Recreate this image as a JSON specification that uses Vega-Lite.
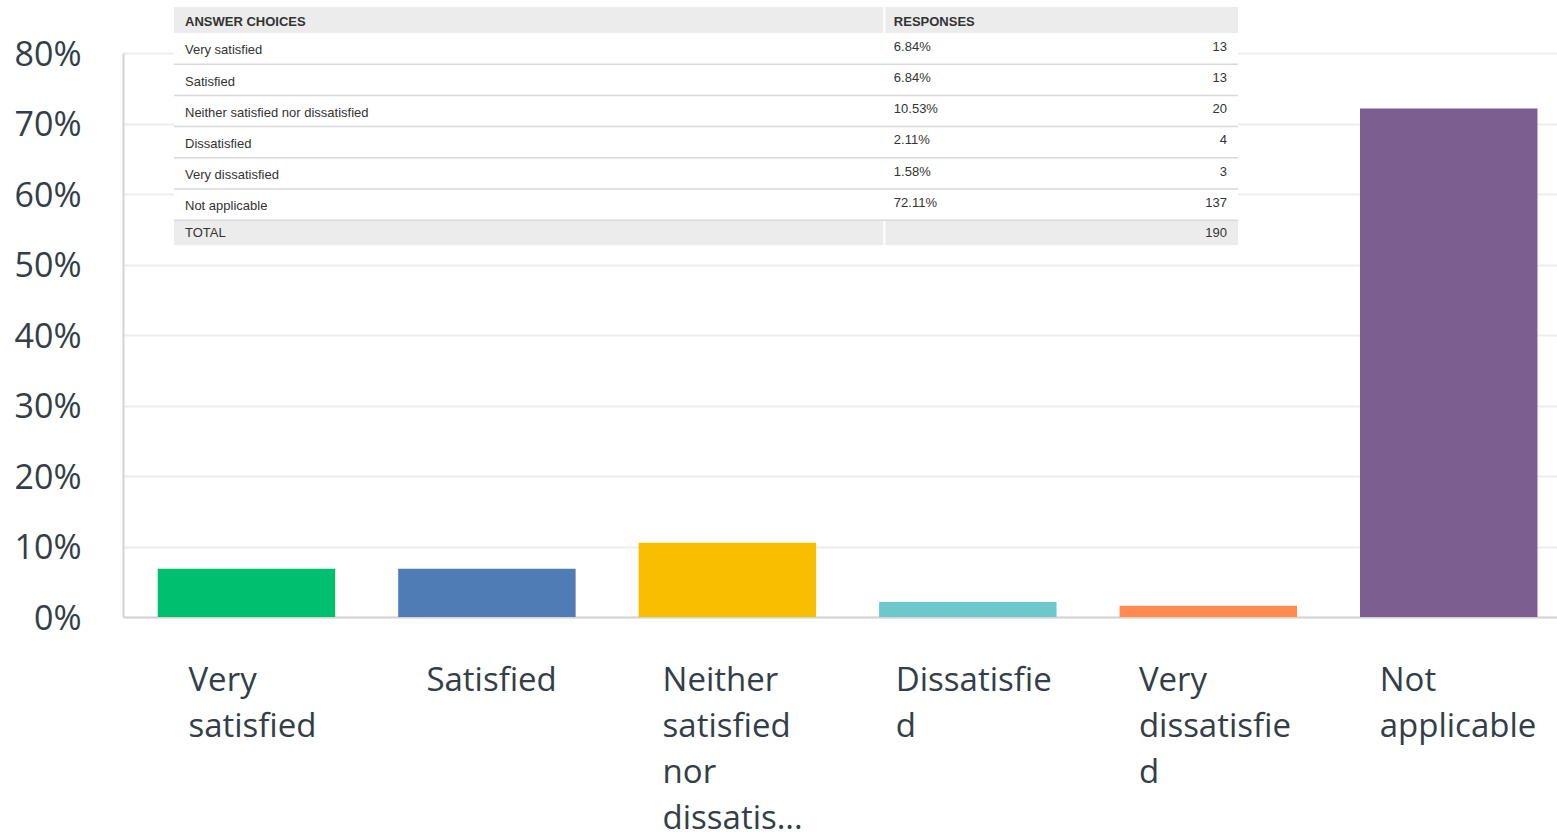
{
  "$schema": "https://vega.github.io/schema/vega-lite/v6.json",
  "width": 1434,
  "height": 564,
  "autosize": {"type": "none"},
  "padding": {"left": 123, "top": 53, "right": 0, "bottom": 218},
  "background": "#ffffff",
  "config": {"view": {"stroke": null}},
  "datasets": {
    "bars": [
      {"choice": "Very satisfied", "pct": 0.0684},
      {"choice": "Satisfied", "pct": 0.0684},
      {"choice": "Neither satisfied nor dissatisfied", "pct": 0.1053},
      {"choice": "Dissatisfied", "pct": 0.0211},
      {"choice": "Very dissatisfied", "pct": 0.0158},
      {"choice": "Not applicable", "pct": 0.7211}
    ],
    "table": [
      {"row": "h", "kind": "header", "label": "ANSWER CHOICES", "resp": "RESPONSES", "count": ""},
      {"row": "r1", "kind": "body", "label": "Very satisfied", "resp": "6.84%", "count": "13"},
      {"row": "r2", "kind": "body", "label": "Satisfied", "resp": "6.84%", "count": "13"},
      {"row": "r3", "kind": "body", "label": "Neither satisfied nor dissatisfied", "resp": "10.53%", "count": "20"},
      {"row": "r4", "kind": "body", "label": "Dissatisfied", "resp": "2.11%", "count": "4"},
      {"row": "r5", "kind": "body", "label": "Very dissatisfied", "resp": "1.58%", "count": "3"},
      {"row": "r6", "kind": "body", "label": "Not applicable", "resp": "72.11%", "count": "137"},
      {"row": "t", "kind": "total", "label": "TOTAL", "resp": "", "count": "190"}
    ]
  },
  "resolve": {"scale": {"x": "independent", "y": "independent"}},
  "layer": [
    {
      "data": {"name": "bars"},
      "mark": {"type": "bar"},
      "encoding": {
        "x": {
          "field": "choice", "type": "nominal", "sort": null,
          "scale": {"paddingInner": 0.262, "paddingOuter": 0.1128, "align": 0.64},
          "axis": {
            "title": null, "ticks": false, "grid": false,
            "domainColor": "#d3d3d3", "domainWidth": 2,
            "labelAngle": 0, "labelAlign": "left", "labelBaseline": "top",
            "labelFont": "Open Sans", "labelFontSize": 33, "labelColor": "#333e48",
            "labelPadding": 47, "labelLineHeight": 46.3, "labelLimit": 0, "labelOverlap": false,
            "labelOffset": {
              "condition": [
                {"test": "datum.value == 'Very satisfied'", "value": -58},
                {"test": "datum.value == 'Satisfied'", "value": -60.5},
                {"test": "datum.value == 'Neither satisfied nor dissatisfied'", "value": -64.8},
                {"test": "datum.value == 'Dissatisfied'", "value": -72},
                {"test": "datum.value == 'Very dissatisfied'", "value": -69.4}
              ],
              "value": -69
            },
            "labelExpr": "datum.value == 'Very satisfied' ? ['Very','satisfied'] : datum.value == 'Neither satisfied nor dissatisfied' ? ['Neither','satisfied','nor','dissatis...'] : datum.value == 'Dissatisfied' ? ['Dissatisfie','d'] : datum.value == 'Very dissatisfied' ? ['Very','dissatisfie','d'] : datum.value == 'Not applicable' ? ['Not','applicable'] : datum.label"
          }
        },
        "y": {
          "field": "pct", "type": "quantitative",
          "scale": {"domain": [0, 0.8], "nice": false},
          "axis": {
            "title": null, "values": [0, 0.1, 0.2, 0.3, 0.4, 0.5, 0.6, 0.7, 0.8],
            "format": ".0%", "ticks": false,
            "grid": true, "gridColor": "#ededed", "gridWidth": 2,
            "domainColor": "#d3d3d3", "domainWidth": 2,
            "labelFont": "Open Sans", "labelFontSize": 34, "labelColor": "#333e48",
            "labelPadding": 42, "labelOffset": 2
          }
        },
        "color": {
          "field": "choice", "type": "nominal", "sort": null, "legend": null,
          "scale": {
            "domain": ["Very satisfied", "Satisfied", "Neither satisfied nor dissatisfied", "Dissatisfied", "Very dissatisfied", "Not applicable"],
            "range": ["#00bf6f", "#507cb6", "#f9be00", "#6bc8cd", "#ff8b4f", "#7d5e90"]
          }
        }
      }
    },
    {
      "data": {"name": "table"},
      "encoding": {
        "y": {
          "field": "row", "type": "nominal",
          "scale": {"type": "band", "domain": ["h", "r1", "r2", "r3", "r4", "r5", "r6", "t"], "range": [-51.2, 198.4], "paddingInner": 0, "paddingOuter": 0},
          "axis": null
        }
      },
      "layer": [
        {
          "transform": [{"filter": "datum.kind == 'body'"}],
          "mark": {"type": "rect", "fill": "#ffffff"},
          "encoding": {
            "x": {"datum": 0, "type": "quantitative", "scale": {"domain": [0, 3], "range": [51, 1115]}, "axis": null},
            "x2": {"datum": 3}
          }
        },
        {
          "transform": [{"filter": "datum.kind == 'header'"}],
          "mark": {"type": "rect", "fill": "#ececec", "height": 26, "yOffset": 2.6},
          "encoding": {
            "x": {"datum": 0, "type": "quantitative", "scale": {"domain": [0, 3], "range": [51, 1115]}, "axis": null},
            "x2": {"datum": 2}
          }
        },
        {
          "transform": [{"filter": "datum.kind == 'header'"}],
          "mark": {"type": "rect", "fill": "#ececec", "height": 26, "yOffset": 2.6, "xOffset": 2},
          "encoding": {
            "x": {"datum": 2, "type": "quantitative", "scale": {"domain": [0, 3], "range": [51, 1115]}, "axis": null},
            "x2": {"datum": 3}
          }
        },
        {
          "transform": [{"filter": "datum.kind == 'total'"}],
          "mark": {"type": "rect", "fill": "#ececec", "height": 25, "yOffset": -3.3},
          "encoding": {
            "x": {"datum": 0, "type": "quantitative", "scale": {"domain": [0, 3], "range": [51, 1115]}, "axis": null},
            "x2": {"datum": 2}
          }
        },
        {
          "transform": [{"filter": "datum.kind == 'total'"}],
          "mark": {"type": "rect", "fill": "#ececec", "height": 25, "yOffset": -3.3, "xOffset": 2},
          "encoding": {
            "x": {"datum": 2, "type": "quantitative", "scale": {"domain": [0, 3], "range": [51, 1115]}, "axis": null},
            "x2": {"datum": 3}
          }
        },
        {
          "transform": [{"filter": "datum.kind == 'body'"}],
          "mark": {"type": "rule", "color": "#d9d9d9", "strokeWidth": 1.5},
          "encoding": {
            "y": {"field": "row", "type": "nominal", "bandPosition": 1},
            "x": {"datum": 0, "type": "quantitative", "scale": {"domain": [0, 3], "range": [51, 1115]}, "axis": null},
            "x2": {"datum": 3}
          }
        },
        {
          "transform": [{"filter": "datum.kind == 'header'"}],
          "mark": {"type": "text", "font": "Liberation Sans", "fontSize": 13, "fontWeight": "bold", "color": "#333333", "align": "left", "baseline": "alphabetic", "dx": 11, "dy": 8.3},
          "encoding": {
            "x": {"datum": 0, "type": "quantitative", "scale": {"domain": [0, 3], "range": [51, 1115]}, "axis": null},
            "text": {"field": "label"}
          }
        },
        {
          "transform": [{"filter": "datum.kind == 'header'"}],
          "mark": {"type": "text", "font": "Liberation Sans", "fontSize": 13, "fontWeight": "bold", "color": "#333333", "align": "left", "baseline": "alphabetic", "dx": 10.5, "dy": 8.3},
          "encoding": {
            "x": {"datum": 2, "type": "quantitative", "scale": {"domain": [0, 3], "range": [51, 1115]}, "axis": null},
            "text": {"field": "resp"}
          }
        },
        {
          "transform": [{"filter": "datum.kind == 'body'"}],
          "mark": {"type": "text", "font": "Liberation Sans", "fontSize": 13, "color": "#333333", "align": "left", "baseline": "alphabetic", "dx": 11, "dy": 5.7},
          "encoding": {
            "x": {"datum": 0, "type": "quantitative", "scale": {"domain": [0, 3], "range": [51, 1115]}, "axis": null},
            "text": {"field": "label"}
          }
        },
        {
          "transform": [{"filter": "datum.kind == 'body'"}],
          "mark": {"type": "text", "font": "Liberation Sans", "fontSize": 13, "color": "#333333", "align": "left", "baseline": "alphabetic", "dx": 10.5, "dy": 2.1},
          "encoding": {
            "x": {"datum": 2, "type": "quantitative", "scale": {"domain": [0, 3], "range": [51, 1115]}, "axis": null},
            "text": {"field": "resp"}
          }
        },
        {
          "transform": [{"filter": "datum.kind == 'body'"}],
          "mark": {"type": "text", "font": "Liberation Sans", "fontSize": 13, "color": "#333333", "align": "right", "baseline": "alphabetic", "dx": -11, "dy": 2.1},
          "encoding": {
            "x": {"datum": 3, "type": "quantitative", "scale": {"domain": [0, 3], "range": [51, 1115]}, "axis": null},
            "text": {"field": "count"}
          }
        },
        {
          "transform": [{"filter": "datum.kind == 'total'"}],
          "mark": {"type": "text", "font": "Liberation Sans", "fontSize": 13, "color": "#333333", "align": "left", "baseline": "alphabetic", "dx": 11, "dy": 1.5},
          "encoding": {
            "x": {"datum": 0, "type": "quantitative", "scale": {"domain": [0, 3], "range": [51, 1115]}, "axis": null},
            "text": {"field": "label"}
          }
        },
        {
          "transform": [{"filter": "datum.kind == 'total'"}],
          "mark": {"type": "text", "font": "Liberation Sans", "fontSize": 13, "color": "#333333", "align": "right", "baseline": "alphabetic", "dx": -11, "dy": 1.5},
          "encoding": {
            "x": {"datum": 3, "type": "quantitative", "scale": {"domain": [0, 3], "range": [51, 1115]}, "axis": null},
            "text": {"field": "count"}
          }
        }
      ]
    }
  ]
}
